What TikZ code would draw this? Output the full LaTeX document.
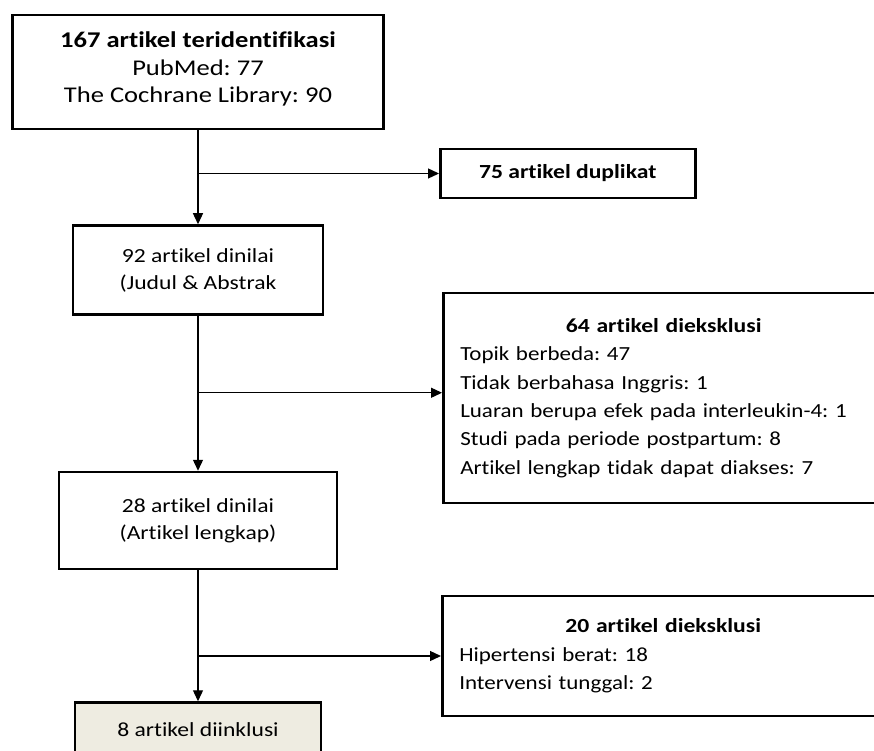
\documentclass[tikz,border=0pt]{standalone}
\usepackage{fontspec}
\setmainfont{Carlito}[FakeStretch=1.18, Ligatures=NoCommon]
\newfontfamily\listfont{Carlito}[FakeStretch=1.15, WordSpace=0.5, Ligatures=NoCommon]
\usepackage{xcolor}
\usepackage{tikz}
\usetikzlibrary{arrows.meta, positioning, calc}

\definecolor{beige}{RGB}{238,236,225}
\frenchspacing

\begin{document}
\begin{tikzpicture}[x=1pt, y=-1pt, node distance=1cm, font=\fontsize{20pt}{27pt}\selectfont]

    % Define style for boxes
    \tikzstyle{main} = [rectangle, draw=black, line width=2.5pt, text centered, align=center, inner sep=0pt]
    \tikzstyle{side} = [rectangle, draw=black, line width=2.5pt, anchor=west, align=left, inner xsep=17pt, inner ysep=0pt]
    \tikzstyle{arrow} = [line width=1.3pt, -{Triangle[length=11pt, width=10pt]}]

    \useasboundingbox (0,0) rectangle (874,751);
    \clip (0,0) rectangle (874,751);

    % Nodes
    \node (identified) [main, minimum width=371pt, minimum height=114pt, font=\fontsize{22.5pt}{27.5pt}\selectfont, text depth=9pt] at (198,72)
        {\textbf{167 artikel teridentifikasi}\\PubMed: 77\\The Cochrane Library: 90};
    \node (screened) [main, minimum width=250pt, minimum height=89pt, below=94pt of identified.south, anchor=north]
        {92 artikel dinilai\\(Judul \& Abstrak};
    \node (fulltext) [main, minimum width=278pt, minimum height=97pt, below=155pt of screened.south, anchor=north]
        {28 artikel dinilai\\(Artikel lengkap)};
    \node (included) [main, fill=beige, minimum width=246pt, minimum height=70pt, below=131pt of fulltext.south, anchor=north, text depth=16pt]
        {8 artikel diinklusi};

    \node (duplicate) [side, minimum width=255pt, minimum height=49pt, inner xsep=0pt, align=center] at (439,173.5)
        {\makebox[255pt]{\textbf{75 artikel duplikat}}};
    \node (excluded) [side, text width=407pt, minimum height=210pt, font=\listfont\fontsize{20pt}{28.3pt}\selectfont] at (442,398)
        {\makebox[\linewidth]{\rmfamily\bfseries 64 artikel dieksklusi}\\
         Topik berbeda: 47\\
         Tidak berbahasa Inggris: 1\\
         Luaran berupa efek pada interleukin-4: 1\\
         Studi pada periode postpartum: 8\\
         Artikel lengkap tidak dapat diakses: 7};
    \node (excludedft) [side, text width=408pt, minimum height=120pt, font=\listfont\fontsize{20pt}{28.5pt}\selectfont] at (441,656)
        {\makebox[\linewidth]{\rmfamily\bfseries 20 artikel dieksklusi}\\
         Hipertensi berat: 18\\
         Intervensi tunggal: 2};

    \coordinate (split1) at (identified.south |- duplicate.west);
    \coordinate (split2) at ($(screened.south)+(0,77)$);
    \coordinate (split3) at (fulltext.south |- excludedft.west);

    % Lines
    \draw[arrow] (identified) -- (screened);
    \draw[arrow] (screened) -- (fulltext);
    \draw[arrow] (fulltext) -- (included);

    \draw[arrow] (split1) -- (duplicate);
    \draw[arrow] (split2) -- (split2 -| excluded.west);
    \draw[arrow] (split3) -- (excludedft);

\end{tikzpicture}
\end{document}
